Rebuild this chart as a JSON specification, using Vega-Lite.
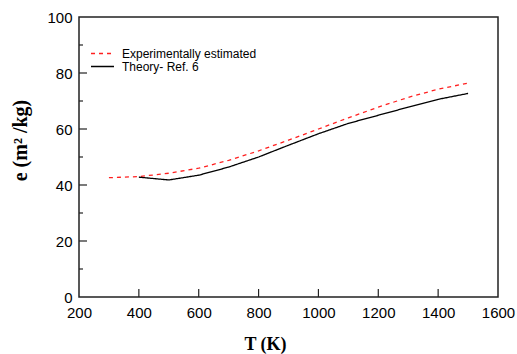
{
  "$schema": "https://vega.github.io/schema/vega-lite/v6.json",
  "width": 419,
  "height": 280,
  "autosize": "none",
  "padding": {"left": 79, "top": 17, "right": 19, "bottom": 57},
  "background": "white",
  "config": {
    "view": {"stroke": "#222", "strokeWidth": 1.5},
    "font": "Liberation Sans"
  },
  "layer": [
    {
      "data": {
        "values": [
          {"T": 300, "e": 42.6, "series": "Experimentally estimated"},
          {"T": 400, "e": 43.0, "series": "Experimentally estimated"},
          {"T": 500, "e": 44.2, "series": "Experimentally estimated"},
          {"T": 600, "e": 46.0, "series": "Experimentally estimated"},
          {"T": 700, "e": 48.8, "series": "Experimentally estimated"},
          {"T": 800, "e": 52.2, "series": "Experimentally estimated"},
          {"T": 900, "e": 56.0, "series": "Experimentally estimated"},
          {"T": 1000, "e": 60.0, "series": "Experimentally estimated"},
          {"T": 1100, "e": 64.0, "series": "Experimentally estimated"},
          {"T": 1200, "e": 67.8, "series": "Experimentally estimated"},
          {"T": 1300, "e": 71.3, "series": "Experimentally estimated"},
          {"T": 1400, "e": 74.2, "series": "Experimentally estimated"},
          {"T": 1500, "e": 76.4, "series": "Experimentally estimated"},
          {"T": 400, "e": 42.8, "series": "Theory- Ref. 6"},
          {"T": 500, "e": 41.8, "series": "Theory- Ref. 6"},
          {"T": 600, "e": 43.5, "series": "Theory- Ref. 6"},
          {"T": 700, "e": 46.4, "series": "Theory- Ref. 6"},
          {"T": 800, "e": 50.0, "series": "Theory- Ref. 6"},
          {"T": 900, "e": 54.2, "series": "Theory- Ref. 6"},
          {"T": 1000, "e": 58.3, "series": "Theory- Ref. 6"},
          {"T": 1100, "e": 62.0, "series": "Theory- Ref. 6"},
          {"T": 1200, "e": 64.9, "series": "Theory- Ref. 6"},
          {"T": 1300, "e": 67.8, "series": "Theory- Ref. 6"},
          {"T": 1400, "e": 70.6, "series": "Theory- Ref. 6"},
          {"T": 1500, "e": 72.7, "series": "Theory- Ref. 6"}
        ]
      },
      "mark": {"type": "line", "strokeWidth": 1.3},
      "encoding": {
        "x": {
          "field": "T",
          "type": "quantitative",
          "scale": {"domain": [200, 1600], "nice": false},
          "axis": {
            "tickCount": 7,
            "format": "d",
            "title": "T (K)",
            "titleFont": "Liberation Serif",
            "titleFontWeight": "bold",
            "titleFontSize": 18,
            "titleColor": "black",
            "titleX": 186,
            "titleY": 38,
            "domain": false,
            "grid": false,
            "ticks": false,
            "labelFontSize": 15,
            "labelColor": "black",
            "labelPadding": 8,
            "labelFlush": false,
            "labelOverlap": false
          }
        },
        "y": {
          "field": "e",
          "type": "quantitative",
          "scale": {"domain": [0, 100], "nice": false},
          "axis": {
            "tickCount": 5,
            "format": "d",
            "title": "e (m² /kg)",
            "titleFont": "Liberation Serif",
            "titleFontWeight": "bold",
            "titleFontSize": 20,
            "titleColor": "black",
            "titleX": -49,
            "titleY": 123,
            "domain": false,
            "grid": false,
            "ticks": false,
            "labelFontSize": 15,
            "labelColor": "black",
            "labelPadding": 7,
            "labelFlush": false,
            "labelOverlap": false
          }
        },
        "color": {
          "field": "series",
          "type": "nominal",
          "scale": {"domain": ["Experimentally estimated", "Theory- Ref. 6"], "range": ["#ff2020", "black"]},
          "legend": {
            "title": null,
            "orient": "none",
            "legendX": 17,
            "legendY": 30,
            "padding": 0,
            "symbolType": "M-2,0H2",
            "symbolSize": 132,
            "symbolStrokeWidth": 1.3,
            "labelFontSize": 12,
            "labelColor": "black",
            "labelOffset": 13,
            "rowPadding": 0
          }
        },
        "strokeDash": {
          "field": "series",
          "type": "nominal",
          "scale": {"domain": ["Experimentally estimated", "Theory- Ref. 6"], "range": [[4, 4], [1, 0]]},
          "legend": {
            "title": null,
            "orient": "none",
            "legendX": 17,
            "legendY": 30,
            "padding": 0,
            "symbolType": "M-2,0H2",
            "symbolSize": 132,
            "symbolStrokeWidth": 1.3,
            "labelFontSize": 12,
            "labelColor": "black",
            "labelOffset": 13,
            "rowPadding": 0
          }
        }
      }
    },
    {
      "data": {"values": [{"T": 400}, {"T": 600}, {"T": 800}, {"T": 1000}, {"T": 1200}, {"T": 1400}]},
      "mark": {"type": "tick", "orient": "vertical", "size": 8, "thickness": 1.2, "yOffset": -4, "color": "#222", "opacity": 1},
      "encoding": {
        "x": {"field": "T", "type": "quantitative"},
        "y": {"datum": 0, "type": "quantitative"}
      }
    },
    {
      "data": {"values": [{"e": 20}, {"e": 40}, {"e": 60}, {"e": 80}]},
      "mark": {"type": "tick", "orient": "horizontal", "size": 8, "thickness": 1.2, "xOffset": 4, "color": "#222", "opacity": 1},
      "encoding": {
        "y": {"field": "e", "type": "quantitative"},
        "x": {"datum": 200, "type": "quantitative"}
      }
    },
    {
      "data": {"values": [{"e": 10}, {"e": 30}, {"e": 50}, {"e": 70}, {"e": 90}]},
      "mark": {"type": "tick", "orient": "horizontal", "size": 4, "thickness": 1.2, "xOffset": 2, "color": "#222", "opacity": 1},
      "encoding": {
        "y": {"field": "e", "type": "quantitative"},
        "x": {"datum": 200, "type": "quantitative"}
      }
    }
  ]
}
